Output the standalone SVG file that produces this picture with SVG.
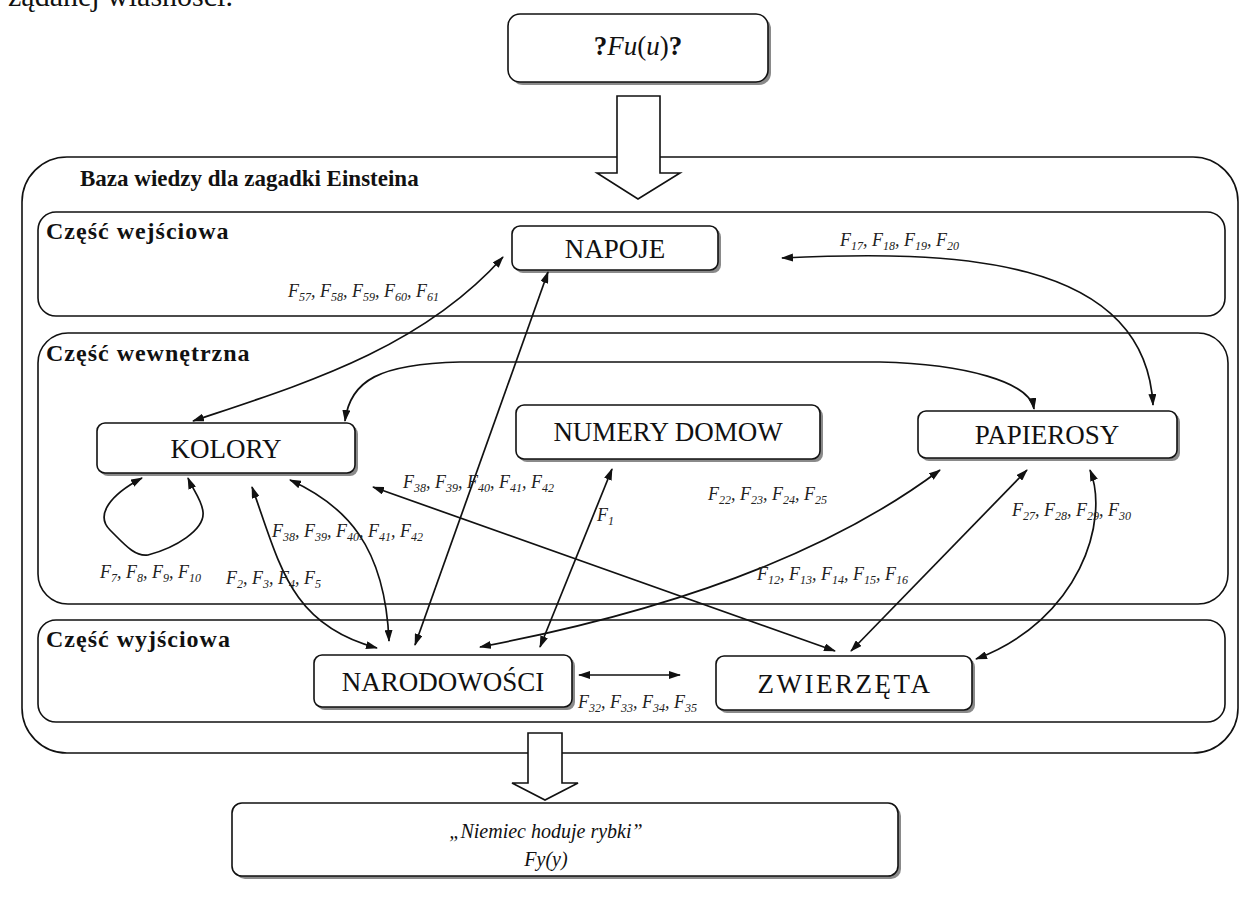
<svg xmlns="http://www.w3.org/2000/svg" width="1242" height="904" viewBox="0 0 1242 904">
  <style>
    .frame { fill: none; stroke: #111; stroke-width: 1.6; }
    .box { fill: #fff; stroke: #111; stroke-width: 1.6; }
    .shadow { fill: #8a8a8a; }
    .hollow { fill: #fff; stroke: #111; stroke-width: 1.6; stroke-linejoin: miter; }
    .node { font-family: "Liberation Serif", "Times New Roman", serif; font-size: 27px; fill: #111; text-anchor: middle; }
    .title { font-family: "Liberation Serif", "Times New Roman", serif; font-size: 23px; font-weight: bold; fill: #111; }
    .sect { font-family: "Liberation Serif", "Times New Roman", serif; font-size: 24px; font-weight: bold; letter-spacing: 1px; fill: #111; }
    .lb { font-family: "Liberation Serif", "Times New Roman", serif; font-size: 18px; font-style: italic; fill: #222; }
    .sb { font-size: 12px; }
    .it { font-family: "Liberation Serif", "Times New Roman", serif; font-size: 20px; font-style: italic; fill: #111; text-anchor: middle; }
    .body { font-family: "Liberation Serif", "Times New Roman", serif; font-size: 30px; fill: #111; }
    .conn path, .conn line { fill: none; stroke: #111; stroke-width: 1.7; marker-start: url(#ah); marker-end: url(#ah); }
  </style>
  <defs>
    <marker id="ah" viewBox="0 0 12 8" refX="11" refY="4" markerWidth="12" markerHeight="8" markerUnits="userSpaceOnUse" orient="auto-start-reverse">
      <path d="M0,0 L12,4 L0,8 z" fill="#111"/>
    </marker>
  </defs>

  <rect width="1242" height="904" fill="#fff"/>

  <!-- tail of the preceding paragraph -->
  <text class="body" x="8" y="6">żądanej własności.</text>

  <!-- knowledge base frame and its three parts -->
  <g id="knowledge-base">
    <rect class="frame" x="22" y="157" width="1216" height="596" rx="45"/>
    <text class="title" x="80" y="186">Baza wiedzy dla zagadki Einsteina</text>
  </g>
  <g id="part-input">
    <rect class="frame" x="38" y="212" width="1187" height="104" rx="18"/>
    <text class="sect" x="46" y="239">Część wejściowa</text>
  </g>
  <g id="part-internal">
    <rect class="frame" x="38" y="333" width="1190" height="271" rx="30"/>
    <text class="sect" x="46" y="361">Część wewnętrzna</text>
  </g>
  <g id="part-output">
    <rect class="frame" x="38" y="620" width="1187" height="102" rx="18"/>
    <text class="sect" x="46" y="647">Część wyjściowa</text>
  </g>

  <!-- query -->
  <g id="query">
    <rect class="shadow" x="511" y="17" width="260" height="68" rx="12"/>
    <rect class="box" x="508" y="14" width="260" height="68" rx="12"/>
    <text class="node" x="638" y="55"><tspan font-weight="bold">?</tspan><tspan font-style="italic">Fu</tspan>(<tspan font-style="italic">u</tspan>)<tspan font-weight="bold">?</tspan></text>
  </g>
  <g id="arrow-in">
    <polygon class="hollow" points="617,96 660,96 660,173 680,173 638,199 597,173 617,173"/>
  </g>

  <!-- answer -->
  <g id="arrow-out">
    <polygon class="hollow" points="528,733 562,733 562,783 578,783 545,800 512,783 528,783"/>
  </g>
  <g id="answer">
    <rect class="shadow" x="235" y="806" width="666" height="73" rx="10"/>
    <rect class="box" x="232" y="803" width="666" height="73" rx="10"/>
    <text class="it" x="546" y="838">„Niemiec hoduje rybki”</text>
    <text class="it" x="546" y="866">Fy(y)</text>
  </g>

  <!-- attribute nodes -->
  <g id="napoje">
    <rect class="shadow" x="515" y="229" width="206" height="44" rx="8"/>
    <rect class="box" x="512" y="226" width="206" height="44" rx="8"/>
    <text class="node" x="615" y="258">NAPOJE</text>
  </g>
  <g id="kolory">
    <rect class="shadow" x="100" y="426" width="258" height="50" rx="8"/>
    <rect class="box" x="97" y="423" width="258" height="50" rx="8"/>
    <text class="node" x="226" y="458">KOLORY</text>
  </g>
  <g id="numery-domow">
    <rect class="shadow" x="519" y="408" width="304" height="54" rx="8"/>
    <rect class="box" x="516" y="405" width="304" height="54" rx="8"/>
    <text class="node" x="668" y="441">NUMERY DOMOW</text>
  </g>
  <g id="papierosy">
    <rect class="shadow" x="921" y="414" width="259" height="47" rx="8"/>
    <rect class="box" x="918" y="411" width="259" height="47" rx="8"/>
    <text class="node" x="1047" y="444">PAPIEROSY</text>
  </g>
  <g id="narodowosci">
    <rect class="shadow" x="317" y="658" width="258" height="52" rx="8"/>
    <rect class="box" x="314" y="655" width="258" height="52" rx="8"/>
    <text class="node" x="443" y="691">NARODOWOŚCI</text>
  </g>
  <g id="zwierzeta">
    <rect class="shadow" x="719" y="659" width="256" height="54" rx="8"/>
    <rect class="box" x="716" y="656" width="256" height="54" rx="8"/>
    <text class="node" x="845" y="693" font-size="28" letter-spacing="2.5">ZWIERZĘTA</text>
  </g>

  <!-- relations between attributes -->
  <g id="connectors" class="conn">
    <path d="M193,421 C300,385 420,350 503,257"/>
    <line x1="548" y1="272" x2="415" y2="645"/>
    <path d="M782,258 C950,250 1145,255 1153,405"/>
    <path d="M345,421 C350,380 380,364 460,362 L880,362 C965,364 1030,382 1034,409"/>
    <path d="M142,478 C110,495 95,515 110,530 C125,545 135,557 148,555 C175,548 205,530 203,512 C202,500 193,490 188,478"/>
    <path d="M252,487 C280,565 290,625 377,648"/>
    <path d="M290,480 C345,505 385,545 389,641"/>
    <line x1="373" y1="487" x2="835" y2="651"/>
    <line x1="612" y1="469" x2="540" y2="647"/>
    <path d="M940,470 Q780,590 480,647"/>
    <line x1="1027" y1="470" x2="851" y2="651"/>
    <path d="M1090,470 C1110,520 1080,620 976,659"/>
    <line x1="579" y1="675" x2="680" y2="675"/>
  </g>

  <!-- rule labels -->
  <g id="labels">
    <text class="lb" x="288" y="297">F<tspan class="sb" dy="4">57</tspan><tspan dy="-4">, F</tspan><tspan class="sb" dy="4">58</tspan><tspan dy="-4">, F</tspan><tspan class="sb" dy="4">59</tspan><tspan dy="-4">, F</tspan><tspan class="sb" dy="4">60</tspan><tspan dy="-4">, F</tspan><tspan class="sb" dy="4">61</tspan></text>
    <text class="lb" x="840" y="246">F<tspan class="sb" dy="4">17</tspan><tspan dy="-4">, F</tspan><tspan class="sb" dy="4">18</tspan><tspan dy="-4">, F</tspan><tspan class="sb" dy="4">19</tspan><tspan dy="-4">, F</tspan><tspan class="sb" dy="4">20</tspan></text>
    <text class="lb" x="403" y="488">F<tspan class="sb" dy="4">38</tspan><tspan dy="-4">, F</tspan><tspan class="sb" dy="4">39</tspan><tspan dy="-4">, F</tspan><tspan class="sb" dy="4">40</tspan><tspan dy="-4">, F</tspan><tspan class="sb" dy="4">41</tspan><tspan dy="-4">, F</tspan><tspan class="sb" dy="4">42</tspan></text>
    <text class="lb" x="272" y="537">F<tspan class="sb" dy="4">38</tspan><tspan dy="-4">, F</tspan><tspan class="sb" dy="4">39</tspan><tspan dy="-4">, F</tspan><tspan class="sb" dy="4">40</tspan><tspan dy="-4">, F</tspan><tspan class="sb" dy="4">41</tspan><tspan dy="-4">, F</tspan><tspan class="sb" dy="4">42</tspan></text>
    <text class="lb" x="708" y="500">F<tspan class="sb" dy="4">22</tspan><tspan dy="-4">, F</tspan><tspan class="sb" dy="4">23</tspan><tspan dy="-4">, F</tspan><tspan class="sb" dy="4">24</tspan><tspan dy="-4">, F</tspan><tspan class="sb" dy="4">25</tspan></text>
    <text class="lb" x="597" y="521">F<tspan class="sb" dy="4">1</tspan></text>
    <text class="lb" x="1012" y="516">F<tspan class="sb" dy="4">27</tspan><tspan dy="-4">, F</tspan><tspan class="sb" dy="4">28</tspan><tspan dy="-4">, F</tspan><tspan class="sb" dy="4">29</tspan><tspan dy="-4">, F</tspan><tspan class="sb" dy="4">30</tspan></text>
    <text class="lb" x="100" y="578">F<tspan class="sb" dy="4">7</tspan><tspan dy="-4">, F</tspan><tspan class="sb" dy="4">8</tspan><tspan dy="-4">, F</tspan><tspan class="sb" dy="4">9</tspan><tspan dy="-4">, F</tspan><tspan class="sb" dy="4">10</tspan></text>
    <text class="lb" x="226" y="584">F<tspan class="sb" dy="4">2</tspan><tspan dy="-4">, F</tspan><tspan class="sb" dy="4">3</tspan><tspan dy="-4">, F</tspan><tspan class="sb" dy="4">4</tspan><tspan dy="-4">, F</tspan><tspan class="sb" dy="4">5</tspan></text>
    <text class="lb" x="757" y="580">F<tspan class="sb" dy="4">12</tspan><tspan dy="-4">, F</tspan><tspan class="sb" dy="4">13</tspan><tspan dy="-4">, F</tspan><tspan class="sb" dy="4">14</tspan><tspan dy="-4">, F</tspan><tspan class="sb" dy="4">15</tspan><tspan dy="-4">, F</tspan><tspan class="sb" dy="4">16</tspan></text>
    <text class="lb" x="578" y="708">F<tspan class="sb" dy="4">32</tspan><tspan dy="-4">, F</tspan><tspan class="sb" dy="4">33</tspan><tspan dy="-4">, F</tspan><tspan class="sb" dy="4">34</tspan><tspan dy="-4">, F</tspan><tspan class="sb" dy="4">35</tspan></text>
  </g>
</svg>
